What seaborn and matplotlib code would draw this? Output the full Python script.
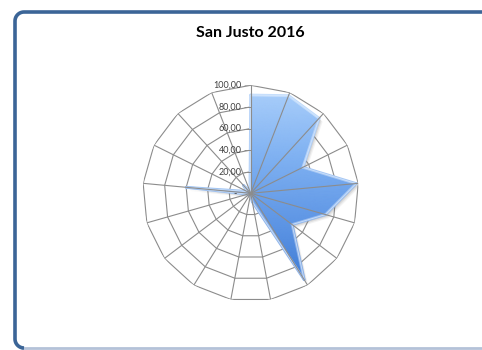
import numpy as np
import pandas as pd
import matplotlib
matplotlib.use("Agg")
import matplotlib.pyplot as plt
import seaborn as sns
from matplotlib.colors import LinearSegmentedColormap, to_rgb
from matplotlib.transforms import ScaledTranslation
from matplotlib.lines import Line2D

# Radar data: one value per spoke, clockwise from the top
sectors = ["S01", "S02", "S03", "S04", "S05", "S06", "S07", "S08", "S09",
           "S10", "S11", "S12", "S13", "S14", "S15", "S16", "S17"]
values = [91, 97, 94, 54, 98, 72, 48, 94, 8, 2, 1, 2, 3, 60, 4, 10, 2]

# Radial axis
ring_levels = [0, 20, 40, 60, 80, 100]
ring_labels = ["-", "20,00", "40,00", "60,00", "80,00", "100,00"]

title = "San Justo 2016"

sns.set_theme(style="white")
plt.rcParams["font.family"] = ["Lato", "DejaVu Sans"]

W, H, DPI = 482, 350, 100
fig = plt.figure(figsize=(W / DPI, H / DPI), dpi=DPI)
fig.patch.set_facecolor("white")


def frame_outline(left, top, bottom, right, r, steps=12):
    """Open outline (top, left side, bottom) of a rounded box, in pixels."""
    a1 = np.linspace(np.pi / 2, np.pi, steps)
    a2 = np.linspace(np.pi, 1.5 * np.pi, steps)
    xs = np.concatenate([[right], left + r + r * np.cos(a1),
                         left + r + r * np.cos(a2), [right]])
    ys = np.concatenate([[top], top - r + r * np.sin(a1),
                         bottom + r + r * np.sin(a2), [bottom]])
    return xs / W, ys / H


# Bottom edge of the chart area (lighter), then the blue top/left border
fig.lines.append(Line2D([22 / W, 1], [2 / H, 2 / H], transform=fig.transFigure,
                        color="#b4c2d8", linewidth=2.0))
fx, fy = frame_outline(15, 338, 2, W, 9)
fig.lines.append(Line2D(fx[:-1], fy[:-1], transform=fig.transFigure,
                        color="#3b6597", linewidth=2.6,
                        solid_capstyle="butt"))

fig.text(250.5 / W, 1 - 33 / H, title, ha="center", va="center",
         fontsize=11.5, fontweight="bold", color="black")

cx, cy, rad = 250.7, 193.3, 108.0
ax = fig.add_axes([(cx - rad) / W, (H - cy - rad) / H,
                   2 * rad / W, 2 * rad / H], projection="polar")
ax.set_theta_zero_location("N")
ax.set_theta_direction(-1)
ax.set_ylim(0, 100)
ax.grid(False)
ax.spines["polar"].set_visible(False)
ax.set_xticks([])
ax.set_yticks([])
ax.patch.set_alpha(0)

n = len(sectors)
theta = np.arange(n) * 2 * np.pi / n
df = pd.DataFrame({"sector": sectors, "theta": theta, "value": values})
closed = pd.concat([df, df.iloc[:1]], ignore_index=True)

grid_color = "#8c8c8c"

# Polygonal rings
for lvl in ring_levels[1:]:
    ax.plot(closed["theta"], [lvl] * len(closed), color=grid_color,
            linewidth=0.8, zorder=1)

# Soft shadow under the filled area
for k, a in [(3.5, 0.08), (2.5, 0.12), (1.5, 0.16)]:
    ax.fill(closed["theta"], closed["value"], facecolor="#606060", alpha=a,
            edgecolor="none", zorder=2,
            transform=ax.transData + ScaledTranslation(k / DPI, -k / DPI,
                                                       fig.dpi_scale_trans))

# Vertical gradient fill clipped to the data polygon
poly = ax.fill(closed["theta"], closed["value"], facecolor="none",
               edgecolor="none", zorder=3)[0]
T, R = np.meshgrid(np.linspace(0, 2 * np.pi, 361), np.linspace(0, 100, 101))
height = R * np.cos(T)
cmap = LinearSegmentedColormap.from_list(
    "blue_fill", ["#3574d0", "#5b93e4", "#7fb1f2", "#acd0fb"])
mesh = ax.pcolormesh(T, R, height, cmap=cmap, vmin=-100, vmax=100,
                     shading="gouraud", zorder=3)
mesh.set_clip_path(poly)

# Bevelled edge: each side a lighter tint of the fill at its height
th_c = closed["theta"].to_numpy()
v_c = closed["value"].to_numpy()
white = np.array(to_rgb("white"))
for i in range(n):
    h0 = v_c[i] * np.cos(th_c[i])
    h1 = v_c[i + 1] * np.cos(th_c[i + 1])
    base = np.array(cmap((0.5 * (h0 + h1) + 100) / 200)[:3])
    tint = base + 0.35 * (white - base)
    ax.plot(th_c[i:i + 2], v_c[i:i + 2], color=tint, linewidth=2.0,
            solid_capstyle="round", zorder=4)

# Thin highlight along the whole outline
sns.lineplot(x=closed["theta"], y=closed["value"], sort=False,
             estimator=None, ax=ax, color="#d6e8fd", linewidth=0.6,
             alpha=0.8, zorder=4)
ax.set_xlabel("")
ax.set_ylabel("")

# Spokes drawn above the series
for t in theta:
    ax.plot([t, t], [0, 100], color=grid_color, linewidth=0.8, zorder=5)

# Radial value labels with tick marks on the top spoke
lab_off = ax.transData + ScaledTranslation(-9 / DPI, 0, fig.dpi_scale_trans)
for lvl, lab in zip(ring_levels, ring_labels):
    extra = -5 / DPI if lab == "-" else 0
    ax.text(0, lvl, lab, ha="right", va="center", fontsize=6.5,
            color="#404040", zorder=6,
            transform=lab_off + ScaledTranslation(extra, 0,
                                                  fig.dpi_scale_trans))
    if lvl > 0:
        ax.plot([0], [lvl], marker=0, markersize=5, markeredgewidth=0.6,
                color=grid_color, linestyle="none", zorder=6)

fig.savefig("out.png", dpi=DPI)
